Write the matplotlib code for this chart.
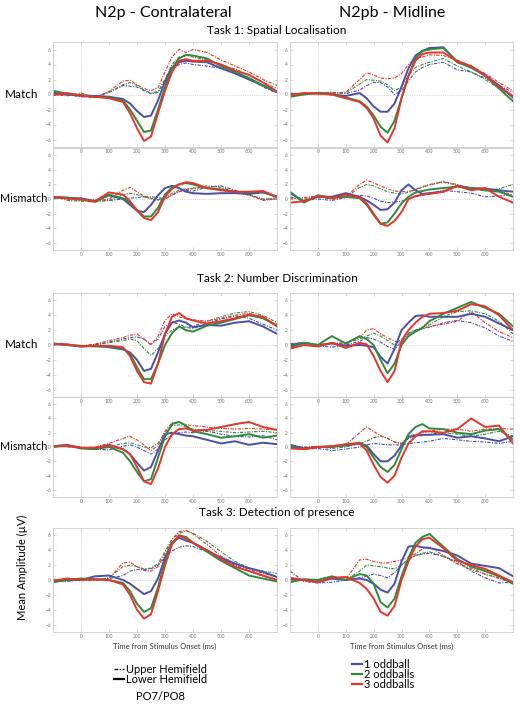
import matplotlib
matplotlib.use("Agg")
import matplotlib.pyplot as plt
from matplotlib.lines import Line2D

plt.rcParams['font.family'] = ['Lato', 'DejaVu Sans']

# time axis (ms)
t = [-100, -50, 0, 50, 100, 150, 175, 200, 225, 250, 275, 300, 325, 350, 375, 400, 450, 500, 550, 600, 650, 700]

xticks = [0, 100, 200, 300, 400, 500, 600]
yticks = [6, 4, 2, 0, -2, -4, -6]
cond_labels = ['1 oddball', '2 oddballs', '3 oddballs']
hemi_labels = ['Upper Hemifield', 'Lower Hemifield']

# ---- Task 1, Match ----
t1m_con_lower_1 = [0.2, 0.0, -0.1, -0.2, -0.3, -0.6, -1.2, -2.2, -3.0, -2.8, -0.8, 1.8, 3.6, 4.3, 4.5, 4.4, 4.3, 3.5, 2.8, 2.0, 1.2, 0.3]
t1m_con_lower_2 = [0.5, 0.1, -0.1, -0.3, -0.4, -0.8, -2.0, -3.5, -5.0, -4.8, -2.0, 1.0, 3.5, 4.8, 5.3, 5.2, 4.8, 3.8, 3.0, 2.2, 1.2, 0.4]
t1m_con_lower_3 = [-0.1, 0.2, -0.2, -0.3, -0.5, -1.0, -2.5, -4.5, -6.2, -5.6, -2.5, 0.5, 3.0, 4.5, 4.7, 4.5, 4.5, 4.0, 3.2, 2.6, 1.6, 0.4]
t1m_con_upper_1 = [0.2, 0.0, -0.3, -0.4, 0.3, 1.2, 1.1, 1.0, 0.5, 0.1, 0.3, 1.5, 3.2, 4.0, 4.2, 4.0, 3.8, 3.5, 3.0, 2.2, 1.0, 0.2]
t1m_con_upper_2 = [0.3, -0.1, -0.2, -0.3, 0.3, 1.3, 1.6, 1.2, 0.6, 0.2, 0.4, 2.0, 4.0, 5.0, 5.2, 5.0, 4.6, 4.0, 3.4, 2.6, 1.6, 0.8]
t1m_con_upper_3 = [0.0, -0.2, 0.2, -0.4, 0.4, 1.8, 1.9, 1.3, 0.8, 0.5, 0.9, 3.0, 5.0, 6.0, 5.6, 6.0, 5.6, 4.6, 3.8, 3.0, 2.0, 1.2]

t1m_mid_lower_1 = [0.0, 0.1, 0.2, 0.0, -0.2, 0.2, -0.5, -1.6, -2.3, -2.3, -1.2, 1.0, 3.5, 5.2, 5.8, 6.2, 6.3, 4.3, 3.6, 2.6, 1.2, -0.4]
t1m_mid_lower_2 = [-0.3, 0.0, 0.2, 0.1, -0.4, -0.9, -1.6, -2.8, -4.3, -5.1, -3.5, -0.5, 2.5, 4.8, 5.8, 6.0, 6.2, 4.4, 3.6, 2.5, 0.8, -0.9]
t1m_mid_lower_3 = [-0.1, 0.2, 0.1, 0.0, -0.5, -1.0, -1.8, -3.2, -5.5, -6.4, -4.5, -0.5, 2.5, 4.5, 5.4, 5.6, 5.6, 4.4, 3.8, 2.5, 1.0, -0.2]
t1m_mid_upper_1 = [0.0, 0.1, 0.2, 0.3, 0.1, 0.6, 1.2, 1.6, 1.6, 1.0, 0.0, 0.5, 1.8, 3.0, 3.6, 4.0, 4.3, 3.3, 3.0, 2.2, 1.2, 0.3]
t1m_mid_upper_2 = [0.2, 0.1, 0.3, 0.2, 0.2, 1.4, 2.0, 1.9, 1.8, 1.3, 0.5, 1.0, 2.5, 3.6, 4.0, 4.3, 4.8, 3.8, 3.0, 2.0, 0.8, -0.2]
t1m_mid_upper_3 = [0.1, 0.0, 0.2, 0.2, 0.3, 2.0, 2.9, 2.6, 2.2, 2.1, 2.2, 2.8, 4.0, 4.8, 5.0, 5.3, 5.2, 4.6, 3.8, 2.8, 1.6, 0.5]

# ---- Task 1, Mismatch ----
t1x_con_lower_1 = [0.2, 0.1, 0.1, -0.3, 0.5, 0.0, -0.8, -1.6, -1.8, -0.8, 0.5, 1.5, 1.8, 1.5, 1.0, 0.8, 0.7, 0.8, 0.8, 0.7, 0.9, 0.3]
t1x_con_lower_2 = [0.3, 0.2, 0.0, -0.4, 0.6, 0.1, -0.5, -1.5, -2.4, -2.4, -1.2, 0.6, 1.6, 2.0, 2.2, 2.0, 1.5, 1.3, 1.0, 0.9, 1.0, 0.3]
t1x_con_lower_3 = [0.3, 0.1, -0.1, -0.3, 0.9, 0.6, -0.3, -1.6, -2.6, -2.9, -1.8, 0.3, 1.4, 2.0, 2.3, 2.2, 1.5, 1.2, 1.0, 1.0, 1.1, 0.3]
t1x_con_upper_1 = [0.3, 0.0, -0.2, -0.1, -0.2, 0.0, 0.1, 0.2, 0.3, 0.3, 0.2, 0.0, 0.5, 1.0, 1.2, 1.1, 1.6, 1.8, 1.2, 0.6, 0.0, 0.0]
t1x_con_upper_2 = [0.4, -0.2, -0.3, -0.4, -0.2, 0.6, 0.8, 0.6, 0.3, 0.1, -0.1, 0.2, 0.8, 1.2, 1.4, 1.4, 1.8, 1.6, 1.0, 0.5, -0.1, 0.2]
t1x_con_upper_3 = [0.1, 0.2, 0.0, -0.3, 0.0, 1.2, 1.6, 1.0, 0.4, 0.0, -0.2, 0.0, 0.6, 1.0, 1.3, 1.5, 1.5, 1.4, 1.0, 0.6, -0.2, 0.0]

t1x_mid_lower_1 = [0.8, -0.3, 0.3, 0.3, 0.8, 0.3, -0.2, -0.8, -1.5, -1.4, -0.5, 1.2, 2.0, 1.2, 0.7, 0.8, 1.0, 1.8, 1.5, 1.4, 1.2, 1.0]
t1x_mid_lower_2 = [1.0, -0.5, 0.5, 0.2, 0.3, 0.1, -0.8, -2.2, -3.4, -3.2, -2.0, -0.6, 0.3, 0.9, 1.1, 1.3, 1.5, 1.7, 1.5, 1.2, 1.0, 0.3]
t1x_mid_lower_3 = [-0.5, -0.3, 0.4, 0.1, 0.6, 0.2, -0.6, -2.0, -3.4, -3.7, -3.0, -1.8, 0.0, 0.4, 0.6, 0.7, 1.0, 1.8, 1.2, 1.5, 0.3, -0.5]
t1x_mid_upper_1 = [0.3, -0.2, 0.0, -0.2, 0.2, 0.5, 0.4, 0.1, -0.3, -0.5, -0.4, -0.3, 0.0, 0.3, 0.5, 0.8, 1.2, 1.0, 0.8, 0.3, 0.4, 0.6]
t1x_mid_upper_2 = [0.2, 0.0, 0.3, 0.0, 0.2, 1.6, 2.0, 1.8, 1.4, 1.0, 0.8, 0.7, 0.9, 1.3, 1.6, 1.9, 2.4, 2.0, 1.4, 1.1, 1.4, 2.0]
t1x_mid_upper_3 = [0.0, 0.2, 0.4, 0.0, 0.3, 2.0, 2.6, 2.2, 1.8, 1.4, 1.1, 1.0, 1.0, 1.3, 1.7, 2.0, 2.3, 1.9, 1.5, 1.5, 1.2, 0.5]

# ---- Task 2, Match ----
t2m_con_lower_1 = [0.2, 0.0, -0.2, -0.1, -0.3, -0.6, -1.0, -2.0, -3.5, -3.2, -1.0, 1.5, 3.0, 3.3, 3.0, 2.4, 2.7, 2.6, 3.0, 3.2, 2.5, 1.5]
t2m_con_lower_2 = [0.2, 0.0, -0.1, -0.2, -0.2, -0.5, -1.2, -3.0, -4.6, -4.6, -2.5, 0.0, 1.6, 2.5, 2.0, 1.8, 2.6, 3.0, 3.5, 4.0, 3.6, 2.6]
t2m_con_lower_3 = [0.1, 0.1, -0.2, -0.1, -0.1, -0.3, -1.5, -3.5, -5.0, -5.2, -2.5, 1.5, 3.8, 4.3, 3.6, 3.3, 2.9, 3.2, 3.6, 4.1, 3.8, 2.5]
t2m_con_upper_1 = [0.1, 0.1, -0.2, 0.0, 0.4, 0.8, 1.0, 1.1, 0.8, 0.1, 0.8, 2.5, 3.1, 2.8, 2.4, 2.2, 2.9, 3.5, 3.9, 3.6, 2.8, 2.0]
t2m_con_upper_2 = [0.0, 0.1, -0.2, 0.1, 0.3, 0.6, 0.8, 0.6, -0.5, -1.4, -0.5, 1.2, 2.0, 2.4, 2.4, 2.5, 3.2, 3.8, 4.3, 4.5, 4.0, 3.0]
t2m_con_upper_3 = [0.1, 0.0, -0.1, 0.1, 0.6, 1.0, 1.3, 1.5, 0.8, 0.0, 1.2, 3.3, 4.2, 3.8, 3.5, 3.4, 3.2, 3.6, 4.0, 4.3, 3.6, 2.8]

t2m_mid_lower_1 = [0.0, 0.3, 0.0, 0.2, -0.1, 0.0, -0.1, -0.3, -1.6, -2.5, -0.5, 2.0, 3.0, 3.9, 4.0, 3.8, 3.8, 3.8, 4.2, 3.8, 2.9, 2.0]
t2m_mid_lower_2 = [-0.3, 0.3, 0.0, 1.2, 0.2, 1.2, 0.8, 0.0, -2.0, -3.8, -2.5, 0.0, 1.2, 1.8, 2.3, 3.2, 4.2, 5.0, 5.8, 5.0, 4.2, 2.5]
t2m_mid_lower_3 = [-0.5, 0.0, -0.2, 0.3, -0.4, 0.3, 0.1, -1.5, -3.5, -5.0, -3.5, 0.5, 2.0, 3.0, 3.8, 4.2, 4.3, 4.6, 5.5, 5.2, 4.0, 2.0]
t2m_mid_upper_1 = [0.2, 0.3, -0.1, -0.3, 0.0, 0.5, 1.0, 0.8, 0.4, -0.2, -0.6, 0.5, 1.5, 2.0, 2.2, 2.4, 3.0, 3.3, 3.0, 2.3, 1.2, 0.5]
t2m_mid_upper_2 = [0.2, 0.0, -0.2, 0.2, 0.3, 0.8, 1.2, 1.6, 1.2, 0.6, 0.0, 0.8, 1.6, 2.0, 2.4, 2.7, 3.8, 4.5, 4.6, 4.2, 3.2, 1.5]
t2m_mid_upper_3 = [-0.1, 0.2, 0.0, 0.3, 0.1, 1.0, 2.0, 2.2, 1.5, 1.0, 0.5, 0.3, 1.3, 1.8, 2.2, 2.5, 2.8, 3.2, 4.5, 3.0, 1.8, 1.0]

# ---- Task 2, Mismatch ----
t2x_con_lower_1 = [0.1, 0.3, -0.1, -0.2, 0.3, -0.3, -1.0, -2.2, -3.3, -2.8, -0.5, 1.8, 2.0, 1.8, 1.6, 1.5, 1.0, 0.5, 0.8, 0.3, 0.6, 0.4]
t2x_con_lower_2 = [0.0, 0.2, -0.2, -0.3, 0.0, -0.8, -2.0, -3.5, -4.8, -4.5, -1.5, 1.5, 3.2, 3.5, 3.0, 2.2, 1.8, 1.3, 1.5, 1.8, 1.3, 1.6]
t2x_con_lower_3 = [0.1, 0.2, -0.1, -0.1, 0.2, -0.3, -1.0, -2.8, -4.8, -5.2, -3.0, 0.0, 1.8, 2.5, 2.6, 2.3, 2.4, 2.8, 3.2, 3.5, 2.8, 2.4]
t2x_con_upper_1 = [0.0, 0.2, -0.2, -0.3, -0.4, 0.1, 0.3, 0.0, -0.5, -1.0, -0.3, 1.0, 1.7, 2.0, 2.1, 2.0, 2.2, 1.8, 1.5, 1.4, 1.6, 1.0]
t2x_con_upper_2 = [0.1, 0.1, -0.1, -0.1, 0.0, 0.5, 0.6, 0.3, 0.0, -0.1, 0.5, 2.0, 3.0, 3.1, 2.8, 2.5, 2.3, 2.2, 2.0, 2.1, 2.2, 2.0]
t2x_con_upper_3 = [0.2, 0.0, -0.1, 0.0, 0.5, 1.2, 1.5, 1.0, 0.3, -0.5, 0.2, 2.2, 3.4, 3.5, 3.1, 3.0, 2.8, 2.6, 2.5, 2.6, 2.5, 2.4]

t2x_mid_lower_1 = [0.3, -0.2, 0.0, 0.1, 0.2, 0.5, 0.2, -1.0, -2.0, -2.0, -1.2, 0.2, 1.4, 1.6, 1.7, 1.7, 1.8, 1.3, 1.5, 1.2, 0.8, 1.5]
t2x_mid_lower_2 = [0.0, -0.3, 0.0, 0.0, 0.3, 0.6, 0.0, -1.5, -2.8, -3.5, -2.5, -0.3, 1.8, 2.8, 3.2, 2.6, 2.5, 2.0, 1.8, 2.3, 2.5, 1.0]
t2x_mid_lower_3 = [-0.2, -0.3, 0.0, 0.1, 0.4, 0.5, -0.5, -2.5, -4.2, -5.0, -4.0, -1.5, 0.5, 1.5, 2.2, 2.2, 2.0, 2.5, 4.0, 2.8, 3.0, 0.5]
t2x_mid_upper_1 = [0.0, -0.3, -0.2, -0.5, -0.3, 0.0, 0.3, 0.5, 0.4, 0.3, 0.3, 0.3, 0.5, 0.6, 0.7, 0.8, 1.2, 1.0, 0.8, 0.7, 0.5, 0.8]
t2x_mid_upper_2 = [0.3, -0.1, 0.0, -0.2, 0.0, 0.5, 0.8, 1.3, 1.5, 1.2, 0.7, 0.5, 1.2, 1.5, 1.6, 1.8, 2.0, 1.8, 1.5, 1.8, 2.2, 1.5]
t2x_mid_upper_3 = [0.1, 0.0, 0.1, 0.0, 0.3, 2.0, 2.8, 2.2, 1.6, 1.2, 0.7, 0.5, 1.5, 1.8, 2.0, 2.2, 2.5, 2.5, 2.2, 2.5, 2.6, 2.5]

# ---- Task 3 ----
t3_con_lower_1 = [-0.2, 0.0, 0.0, 0.5, 0.6, 0.0, -0.5, -1.2, -1.9, -1.5, 0.2, 3.0, 5.0, 5.7, 5.3, 5.0, 4.0, 3.0, 2.2, 1.6, 1.1, 0.4]
t3_con_lower_2 = [-0.3, 0.0, 0.2, 0.1, 0.0, -0.4, -1.5, -3.2, -4.3, -3.8, -1.0, 2.5, 5.0, 6.0, 5.8, 5.0, 3.8, 2.6, 1.6, 0.6, 0.2, -0.2]
t3_con_lower_3 = [-0.1, 0.2, 0.0, 0.1, 0.0, -0.6, -2.0, -4.0, -5.2, -4.6, -1.5, 2.0, 4.8, 6.0, 5.6, 5.0, 4.0, 2.8, 1.8, 1.2, 0.6, 0.0]
t3_con_upper_1 = [-0.1, -0.2, 0.0, 0.1, 0.2, 0.6, 1.2, 1.4, 1.4, 1.5, 2.0, 3.0, 3.9, 4.4, 4.6, 4.5, 3.8, 3.0, 2.0, 1.2, 0.5, 0.1]
t3_con_upper_2 = [0.0, 0.1, -0.1, 0.0, 0.3, 1.8, 2.0, 1.8, 1.5, 1.6, 2.2, 3.8, 5.5, 6.3, 6.6, 6.3, 5.2, 3.8, 2.5, 1.6, 1.2, 0.9]
t3_con_upper_3 = [0.1, 0.0, 0.1, -0.1, 0.2, 2.3, 2.4, 1.8, 1.3, 1.2, 1.8, 3.5, 5.5, 6.5, 6.7, 6.2, 4.8, 3.2, 2.2, 1.4, 0.9, 0.4]

t3_mid_lower_1 = [0.1, 0.0, -0.3, 0.2, 0.0, 0.2, 0.0, -0.5, -1.3, -1.7, -0.5, 2.5, 4.5, 4.6, 4.4, 4.3, 3.9, 3.3, 2.2, 1.9, 1.6, 0.5]
t3_mid_lower_2 = [-0.3, 0.1, 0.0, 0.5, 0.0, 0.8, 0.6, -0.5, -3.0, -3.7, -2.5, 0.5, 3.0, 5.0, 5.8, 6.2, 4.5, 2.8, 1.8, 1.2, 0.5, -0.5]
t3_mid_lower_3 = [0.3, 0.0, -0.3, 0.3, 0.4, -0.4, -1.2, -2.5, -4.3, -4.8, -3.5, 0.0, 2.5, 4.5, 5.5, 5.7, 4.3, 2.6, 2.0, 1.5, 0.6, -0.3]
t3_mid_upper_1 = [1.2, -0.2, -0.4, -0.3, 0.0, 0.3, 0.5, 0.8, 0.6, 0.3, 1.0, 2.0, 2.8, 3.3, 3.5, 3.6, 3.2, 2.5, 1.2, 0.3, -0.4, -0.3]
t3_mid_upper_2 = [0.2, 0.0, -0.1, 0.2, 0.0, 1.2, 2.0, 1.9, 1.8, 1.6, 1.5, 2.0, 2.8, 3.3, 3.6, 3.8, 3.2, 2.2, 1.4, 0.8, 0.3, -0.5]
t3_mid_upper_3 = [0.0, 0.1, 0.0, 0.2, 0.1, 2.7, 2.8, 2.5, 2.3, 2.3, 2.5, 2.7, 3.0, 3.5, 4.2, 4.5, 3.3, 2.2, 1.6, 0.8, 0.2, -0.3]

colors = ['#4a4fa8', '#2e8a3c', '#e8342a']

# panel layout in pixels (top, bottom) for rows; (left, right) for columns
W, H = 520, 709
rows_px = [(42, 147), (148, 250), (293, 397), (397, 497), (528, 632)]
cols_px = [(53, 277), (290, 513)]

panels = [
    (0, 0, [t1m_con_lower_1, t1m_con_lower_2, t1m_con_lower_3], [t1m_con_upper_1, t1m_con_upper_2, t1m_con_upper_3]),
    (0, 1, [t1m_mid_lower_1, t1m_mid_lower_2, t1m_mid_lower_3], [t1m_mid_upper_1, t1m_mid_upper_2, t1m_mid_upper_3]),
    (1, 0, [t1x_con_lower_1, t1x_con_lower_2, t1x_con_lower_3], [t1x_con_upper_1, t1x_con_upper_2, t1x_con_upper_3]),
    (1, 1, [t1x_mid_lower_1, t1x_mid_lower_2, t1x_mid_lower_3], [t1x_mid_upper_1, t1x_mid_upper_2, t1x_mid_upper_3]),
    (2, 0, [t2m_con_lower_1, t2m_con_lower_2, t2m_con_lower_3], [t2m_con_upper_1, t2m_con_upper_2, t2m_con_upper_3]),
    (2, 1, [t2m_mid_lower_1, t2m_mid_lower_2, t2m_mid_lower_3], [t2m_mid_upper_1, t2m_mid_upper_2, t2m_mid_upper_3]),
    (3, 0, [t2x_con_lower_1, t2x_con_lower_2, t2x_con_lower_3], [t2x_con_upper_1, t2x_con_upper_2, t2x_con_upper_3]),
    (3, 1, [t2x_mid_lower_1, t2x_mid_lower_2, t2x_mid_lower_3], [t2x_mid_upper_1, t2x_mid_upper_2, t2x_mid_upper_3]),
    (4, 0, [t3_con_lower_1, t3_con_lower_2, t3_con_lower_3], [t3_con_upper_1, t3_con_upper_2, t3_con_upper_3]),
    (4, 1, [t3_mid_lower_1, t3_mid_lower_2, t3_mid_lower_3], [t3_mid_upper_1, t3_mid_upper_2, t3_mid_upper_3]),
]

fig = plt.figure(figsize=(W / 100, H / 100), dpi=100)
dotted = (0, (3, 1.2, 1, 1.2))

for r, c, lower, upper in panels:
    top, bot = rows_px[r]
    left, right = cols_px[c]
    ax = fig.add_axes([left / W, 1 - bot / H, (right - left) / W, (bot - top) / H])
    ax.patch.set_alpha(0)
    ax.axvline(0, color='#bbbbbb', lw=0.5, ls=':', zorder=0)
    ax.axhline(0, color='#bbbbbb', lw=0.5, ls=':', zorder=0)
    for k in range(3):
        ax.plot(t, upper[k], color=colors[k], lw=0.8, ls=dotted)
    for k in range(3):
        ax.plot(t, lower[k], color=colors[k], lw=1.4)
    ax.set_xlim(-100, 700)
    ax.set_ylim(-7, 7)
    ax.set_xticks(xticks)
    ax.set_yticks(yticks)
    ax.tick_params(labelsize=3.5, labelcolor='#777777', color='#bbbbbb',
                   length=2, width=0.4, direction='in', pad=1.5, top=True, right=True)
    for s in ax.spines.values():
        s.set_color('#cccccc')
        s.set_linewidth(0.6)
    if r == 4:
        ax.set_xlabel('Time from Stimulus Onset (ms)', fontsize=5.5, color='#333333', labelpad=3)

# column and task titles
fig.text(163 / W, 1 - 13 / H, 'N2p - Contralateral', ha='center', va='center', fontsize=11.5)
fig.text(392 / W, 1 - 13 / H, 'N2pb - Midline', ha='center', va='center', fontsize=11.5)
fig.text(277 / W, 1 - 31 / H, 'Task 1: Spatial Localisation', ha='center', va='center', fontsize=8.5)
fig.text(277 / W, 1 - 278 / H, 'Task 2: Number Discrimination', ha='center', va='center', fontsize=8.5)
fig.text(277 / W, 1 - 513 / H, 'Task 3: Detection of presence', ha='center', va='center', fontsize=8.5)

# row labels
for y_px, lab in [(95, 'Match'), (198, 'Mismatch'), (345, 'Match'), (446, 'Mismatch')]:
    if lab == 'Match':
        fig.text(5 / W, 1 - y_px / H, lab, ha='left', va='center', fontsize=8.5)
    else:
        fig.text(0, 1 - y_px / H, lab, ha='left', va='center', fontsize=7.8)
fig.text(22 / W, 1 - 567 / H, 'Mean Amplitude (\u00b5V)', rotation=90, ha='center', va='center', fontsize=8)

# legends
hemi_handles = [Line2D([], [], color='k', lw=0.9, ls=dotted), Line2D([], [], color='k', lw=1.6)]
fig.legend(hemi_handles, hemi_labels, loc='upper left', bbox_to_anchor=(114 / W, 1 - 664 / H),
           frameon=False, fontsize=8, handlelength=0.9, handletextpad=0.2, labelspacing=-0.1,
           borderaxespad=0, borderpad=0)
fig.text(160 / W, 1 - 697 / H, 'PO7/PO8', ha='center', va='center', fontsize=8)

cond_handles = [Line2D([], [], color=col, lw=1.6) for col in colors]
fig.legend(cond_handles, cond_labels, loc='upper left', bbox_to_anchor=(352 / W, 1 - 659 / H),
           frameon=False, fontsize=8, handlelength=0.9, handletextpad=0.2, labelspacing=-0.1,
           borderaxespad=0, borderpad=0)

fig.savefig('out.png', dpi=100, facecolor='white')
